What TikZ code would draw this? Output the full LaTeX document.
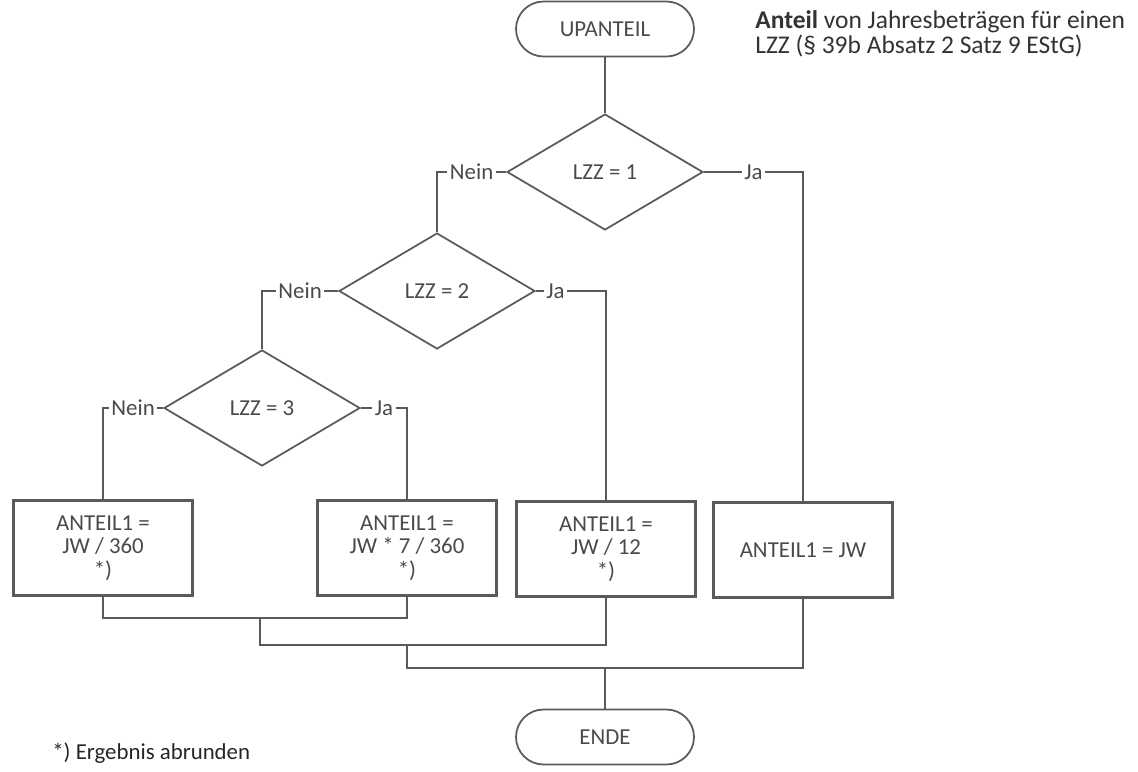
\documentclass[tikz,border=0pt]{standalone}
\usepackage{fontspec}
\setmainfont{Carlito}
\usetikzlibrary{shapes.geometric,shapes.misc}
\definecolor{linegray}{HTML}{5A5A5A}
\definecolor{textgray}{HTML}{4A4A4A}

\begin{document}
\begin{tikzpicture}[x=0.02cm,y=-0.02cm]
\tikzstyle{every node}+=[inner sep=0pt, text=textgray, font=\fontsize{13}{13.4}\selectfont]
\tikzstyle{term}=[draw=linegray, line width=1pt, rounded rectangle, minimum width=3.56cm, minimum height=1.1cm]
\tikzstyle{test}=[draw=linegray, line width=1pt, diamond, minimum width=3.92cm, minimum height=2.32cm]
\tikzstyle{calc}=[draw=linegray, line width=1.2pt, rectangle, minimum width=3.58cm, minimum height=1.9cm, align=center]
\tikzstyle{flow}=[draw=linegray, line width=1pt]
\tikzstyle{answer}=[fill=white, inner sep=1.5pt]
\useasboundingbox (0,0) rectangle (1138,771);
\node (start) [term] at (605,29) {UPANTEIL};
\node (d1) [test] at (605,172) {LZZ = 1};
\node (d2) [test] at (437,291) {LZZ = 2};
\node (d3) [test] at (262,408) {LZZ = 3};
\node (b1) [calc] at (103,548) {ANTEIL1 =\\JW / 360\\*)};
\node (b2) [calc] at (407,548) {ANTEIL1 =\\JW * 7 / 360\\*)};
\node (b3) [calc] at (606,549) {ANTEIL1 =\\JW / 12\\*)};
\node (b4) [calc] at (803,550) {ANTEIL1 = JW};
\node (end) [term] at (605,737) {ENDE};
\coordinate (j1) at (260,618);
\coordinate (j2) at (407,645);
\coordinate (j3) at (605,668);
\draw [flow] (start.south) -- (d1.north);
\draw [flow] (d1.west) -| node [answer, pos=0.25] {Nein} (d2.north);
\draw [flow] (d1.east) -| node [answer, pos=0.25] {Ja} (b4.north);
\draw [flow] (d2.west) -| node [answer, pos=0.25] {Nein} (d3.north);
\draw [flow] (d2.east) -| node [answer, pos=0.14] {Ja} (b3.north);
\draw [flow] (d3.west) -| node [answer, pos=0.25] {Nein} (b1.north);
\draw [flow] (d3.east) -| node [answer, pos=0.25] {Ja} (b2.north);
\draw [flow] (b1.south) |- (j1) -| (b2.south);
\draw [flow] (j1) |- (j2) -| (b3.south);
\draw [flow] (j2) |- (j3) -| (b4.south);
\draw [flow] (j3) -- (end.north);
\node (title) [anchor=west, align=left, text=black!80, font=\fontsize{14.5}{14.2}\selectfont] at (755,34) {\textbf{Anteil} von Jahresbeträgen für einen\\LZZ (§ 39b Absatz 2 Satz 9 EStG)};
\node (note) [anchor=west, text=black!85] at (52,753) {*) Ergebnis abrunden};
\end{tikzpicture}
\end{document}
